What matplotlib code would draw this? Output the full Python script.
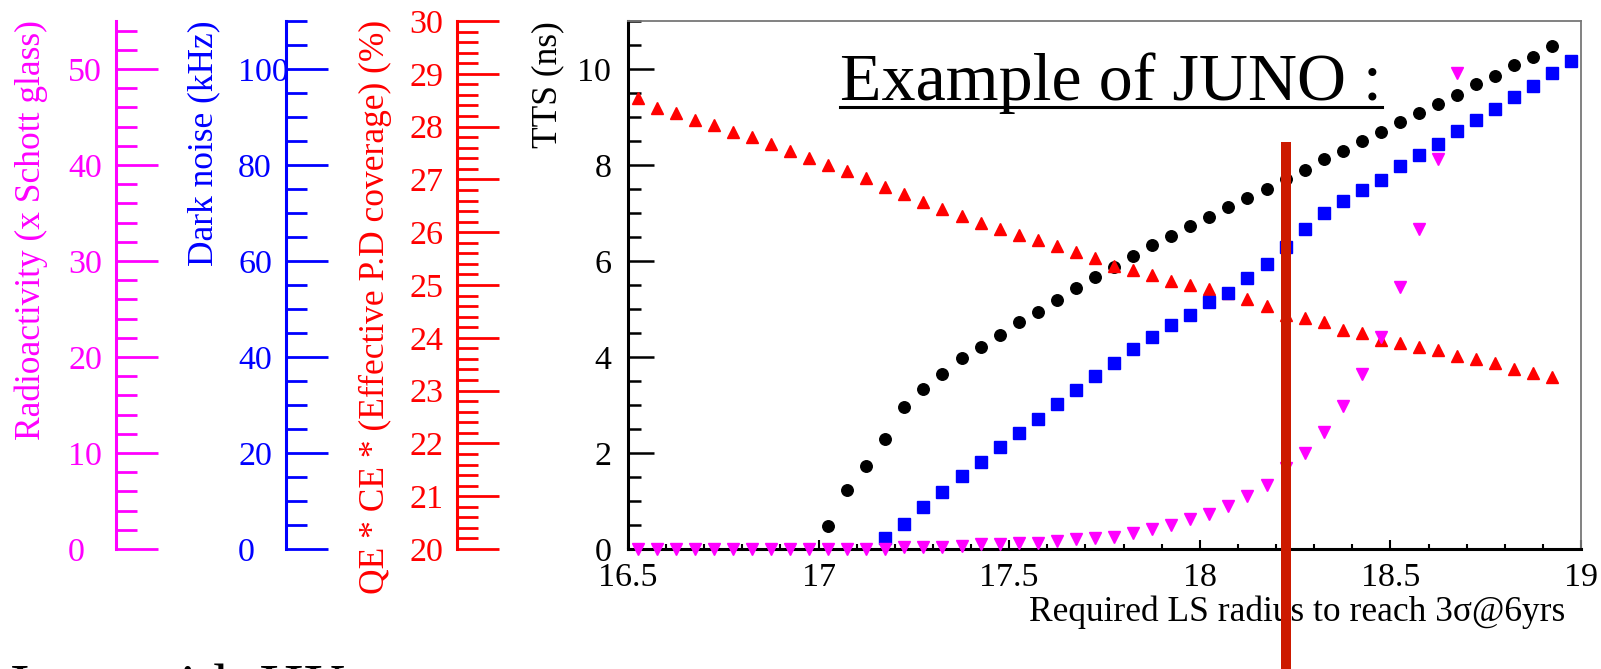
import matplotlib
matplotlib.use("Agg")
import matplotlib.pyplot as plt
from matplotlib.ticker import MultipleLocator
from matplotlib.lines import Line2D

plt.rcParams['font.family'] = ['Liberation Serif', 'DejaVu Serif']

# ---- data ----
radius = [16.525, 16.575, 16.625, 16.675, 16.725, 16.775, 16.825, 16.875, 16.925, 16.975,
          17.025, 17.075, 17.125, 17.175, 17.225, 17.275, 17.325, 17.375, 17.425, 17.475,
          17.525, 17.575, 17.625, 17.675, 17.725, 17.775, 17.825, 17.875, 17.925, 17.975,
          18.025, 18.075, 18.125, 18.175, 18.225, 18.275, 18.325, 18.375, 18.425, 18.475,
          18.525, 18.575, 18.625, 18.675, 18.725, 18.775, 18.825, 18.875, 18.925, 18.975]

# red triangles (QE*CE), from 16.525 to 18.925
qe_ce = [9.40, 9.19, 9.08, 8.94, 8.83, 8.69, 8.58, 8.43, 8.29, 8.15,
         8.01, 7.88, 7.72, 7.54, 7.40, 7.23, 7.09, 6.93, 6.79, 6.67,
         6.55, 6.43, 6.31, 6.18, 6.07, 5.90, 5.81, 5.71, 5.58, 5.49,
         5.42, 5.33, 5.20, 5.07, 4.88, 4.81, 4.72, 4.56, 4.49, 4.35,
         4.30, 4.20, 4.15, 4.02, 3.95, 3.87, 3.76, 3.66, 3.59]

# black circles (TTS), from 17.025 to 18.925
tts_start = 10
tts = [0.47, 1.22, 1.72, 2.29, 2.95, 3.33, 3.65, 3.97, 4.21, 4.45,
       4.72, 4.93, 5.19, 5.43, 5.66, 5.88, 6.10, 6.33, 6.53, 6.72,
       6.92, 7.12, 7.32, 7.50, 7.71, 7.90, 8.12, 8.30, 8.51, 8.68,
       8.90, 9.08, 9.28, 9.46, 9.68, 9.85, 10.08, 10.26, 10.48]

# blue squares (dark noise), from 17.175 to 18.975
dn_start = 13
dark_noise = [0.22, 0.53, 0.88, 1.19, 1.52, 1.81, 2.13, 2.41, 2.70, 3.02,
              3.31, 3.60, 3.88, 4.16, 4.42, 4.67, 4.88, 5.14, 5.34, 5.64,
              5.94, 6.30, 6.66, 6.99, 7.24, 7.48, 7.69, 7.97, 8.21, 8.44,
              8.71, 8.94, 9.16, 9.42, 9.65, 9.92, 10.17]

# magenta inverted triangles (radioactivity), from 16.525 to 18.675
radio = [0.0, 0.0, 0.0, 0.0, 0.0, 0.0, 0.0, 0.0, 0.0, 0.0,
         0.0, 0.0, 0.0, 0.0, 0.05, 0.05, 0.05, 0.06, 0.10, 0.11,
         0.13, 0.13, 0.17, 0.20, 0.22, 0.26, 0.34, 0.41, 0.50, 0.62,
         0.73, 0.90, 1.11, 1.33, 1.68, 2.01, 2.44, 2.98, 3.65, 4.42,
         5.45, 6.66, 8.12, 9.92]

juno_radius = 18.225

x_ticks = [16.5, 17, 17.5, 18, 18.5, 19]
x_labels = ['16.5', '17', '17.5', '18', '18.5', '19']
y_ticks = [0, 2, 4, 6, 8, 10]
y_labels = ['0', '2', '4', '6', '8', '10']

radio_ticks = [0, 10, 20, 30, 40, 50]
noise_ticks = [0, 20, 40, 60, 80, 100]
qe_ticks = [20, 21, 22, 23, 24, 25, 26, 27, 28, 29, 30]

# ---- figure ----
W, H = 1601, 669
fig = plt.figure(figsize=(W / 100, H / 100), dpi=100)


def fx(x):
    return x / W


def fy(y):
    return 1 - y / H


TOP, BOTTOM = 21, 549
AX_H = (BOTTOM - TOP) / H

ax = fig.add_axes([fx(628), fy(BOTTOM), fx(1581) - fx(628), AX_H])
ax.set_xlim(16.5, 19)
ax.set_ylim(0, 11)

ax.plot(radius[tts_start:tts_start + len(tts)], tts, ls='none', marker='o',
        ms=8.3, color='black', mec='black', clip_on=False, zorder=3)
ax.plot(radius[:len(qe_ce)], qe_ce, ls='none', marker='^',
        ms=8.5, color='red', mec='red', clip_on=False, zorder=4)
ax.plot(radius[dn_start:dn_start + len(dark_noise)], dark_noise, ls='none', marker='s',
        ms=8.6, color='blue', mec='blue', clip_on=False, zorder=5)
ax.plot(radius[:len(radio)], radio, ls='none', marker='v',
        ms=8.5, color='magenta', mec='magenta', clip_on=False, zorder=6)

ax.axvline(juno_radius, ymin=(BOTTOM - 669) / (BOTTOM - TOP), ymax=(BOTTOM - 142) / (BOTTOM - TOP),
           color='#CC1A00', lw=7.2, clip_on=False, zorder=10, solid_capstyle='butt')

ax.set_xticks(x_ticks, x_labels)
ax.set_yticks(y_ticks, y_labels)
ax.xaxis.set_minor_locator(MultipleLocator(0.1))
ax.yaxis.set_minor_locator(MultipleLocator(0.5))
ax.tick_params(axis='y', which='major', direction='in', length=19, width=1.8, labelsize=24.5, pad=12)
ax.tick_params(axis='y', which='minor', direction='in', length=9.5, width=1.8)
ax.tick_params(axis='x', which='major', direction='in', length=6.5, width=1.5, labelsize=24.5, pad=10)
ax.tick_params(axis='x', which='minor', direction='in', length=3.3, width=1.5)

for s in ['left', 'bottom']:
    ax.spines[s].set_linewidth(2.2)
    ax.spines[s].set_color('black')
for s in ['top', 'right']:
    ax.spines[s].set_linewidth(1.3)
    ax.spines[s].set_color('#777777')

ax.set_ylabel('TTS (ns)', fontsize=25.5, rotation=90, ha='right', va='center', rotation_mode='anchor')
ax.yaxis.set_label_coords((548 - 628) / 953, 1.0)
ax.set_xlabel('Required LS radius to reach 3σ@6yrs', fontsize=25.5, ha='right', va='baseline')
ax.xaxis.set_label_coords((1565 - 628) / 953, (BOTTOM - 621) / (BOTTOM - TOP))


# ---- the three stand-alone scales on the left ----
def side_axis(xpix, color, lo, hi, ticks, minor, title, title_x, label_left):
    a = fig.add_axes([fx(xpix), fy(BOTTOM), 0.02, AX_H])
    a.patch.set_visible(False)
    for s in ['top', 'right', 'bottom']:
        a.spines[s].set_visible(False)
    a.spines['left'].set_color(color)
    a.spines['left'].set_linewidth(2.2)
    a.set_ylim(lo, hi)
    a.set_xticks([])
    a.set_yticks(ticks, [str(t) for t in ticks])
    a.yaxis.set_minor_locator(MultipleLocator(minor))
    a.tick_params(axis='y', which='major', direction='in', length=30, width=2,
                  color=color, labelcolor=color, labelsize=24.5, pad=(xpix - label_left) / 1.389)
    a.tick_params(axis='y', which='minor', direction='in', length=15, width=2, color=color)
    for t in a.get_yticklabels():
        t.set_ha('left')
    fig.text(fx(title_x), fy(TOP - 1), title, rotation=90, ha='right', va='center',
             rotation_mode='anchor', color=color, fontsize=25.5)


side_axis(116, 'magenta', 0, 55, radio_ticks, 2, 'Radioactivity (x Schott glass)', 31, 68)
side_axis(286, 'blue', 0, 110, noise_ticks, 5, 'Dark noise (kHz)', 204, 238)
side_axis(457, 'red', 20, 30, qe_ticks, 0.2, 'QE * CE * (Effective P.D coverage) (%)', 375, 409)

# ---- slide texts ----
t = fig.text(fx(840), fy(100), 'Example of JUNO :', fontsize=49, ha='left', va='baseline')
fig.text(fx(5), fy(706), 'Juno with HK', fontsize=44, ha='left', va='baseline')

fig.canvas.draw()
bb = t.get_window_extent()
fig.add_artist(Line2D([bb.x0 / W, bb.x1 / W], [fy(107), fy(107)], transform=fig.transFigure,
                      color='black', lw=2.2))

fig.savefig('out.png', dpi=100)
